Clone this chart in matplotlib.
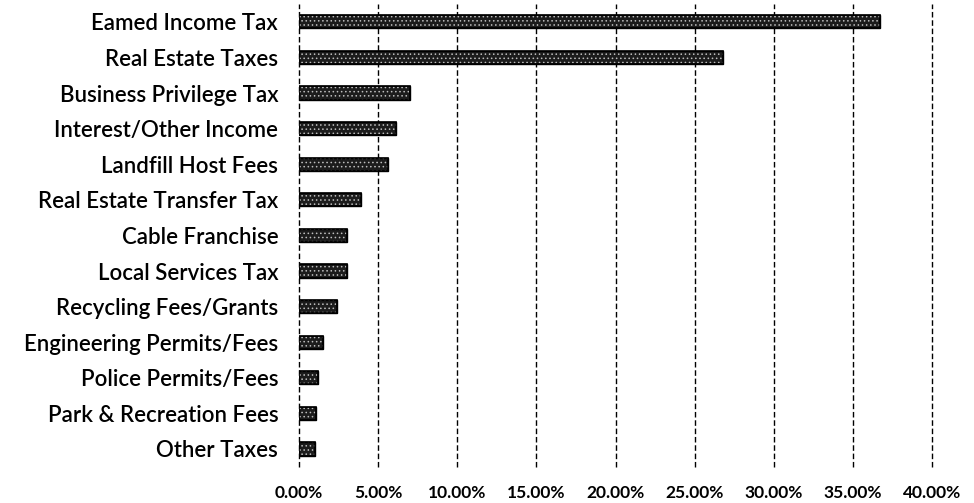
import matplotlib
matplotlib.use("Agg")
import matplotlib.pyplot as plt
from matplotlib.ticker import FuncFormatter

categories = ["Eamed Income Tax", "Real Estate Taxes", "Business Privilege Tax",
              "Interest/Other Income", "Landfill Host Fees", "Real Estate Transfer Tax",
              "Cable Franchise", "Local Services Tax", "Recycling Fees/Grants",
              "Engineering Permits/Fees", "Police Permits/Fees", "Park & Recreation Fees",
              "Other Taxes"]
values = [36.7, 26.8, 7.0, 6.1, 5.6, 3.9, 3.0, 3.0, 2.4, 1.5, 1.2, 1.1, 1.0]
xticks = [0, 5, 10, 15, 20, 25, 30, 35, 40]

plt.rcParams['font.family'] = ['Lato', 'DejaVu Sans']
plt.rcParams['hatch.linewidth'] = 0.6

fig = plt.figure(figsize=(9.74, 5.03), dpi=100)
ax = fig.add_axes([0.307, 0.072, 0.65, 0.92])

ypos = list(range(len(categories)))
ax.barh(ypos, values, height=0.37, color='#1c1c1c', edgecolor='black', linewidth=1.0, zorder=3)
ax.barh(ypos, values, height=0.37, color='none', edgecolor='#bdbdbd', hatch='....', linewidth=0, zorder=4)
ax.barh(ypos, values, height=0.37, color='none', edgecolor='black', linewidth=1.2, zorder=5)

ax.set_yticks(ypos)
ax.set_yticklabels(categories, fontsize=16, color='black', fontweight='semibold')
ax.set_ylim(len(categories) - 0.5, -0.5)
ax.set_xlim(0, 40)
ax.set_xticks(xticks)
ax.xaxis.set_major_formatter(FuncFormatter(lambda v, p: f"{v:.2f}%"))
for lab in ax.get_xticklabels():
    lab.set_fontsize(12.5)
    lab.set_fontweight('bold')
ax.tick_params(axis='both', length=0)
ax.tick_params(axis='x', pad=13)
ax.tick_params(axis='y', pad=15)
for s in ax.spines.values():
    s.set_visible(False)
ax.grid(axis='x', color='black', linestyle=(0, (4, 2)), linewidth=1.0, zorder=1)
for gl in ax.get_xgridlines():
    gl.set_clip_on(False)
ax.set_axisbelow(True)

fig.savefig("out.png", dpi=100, facecolor='white')
